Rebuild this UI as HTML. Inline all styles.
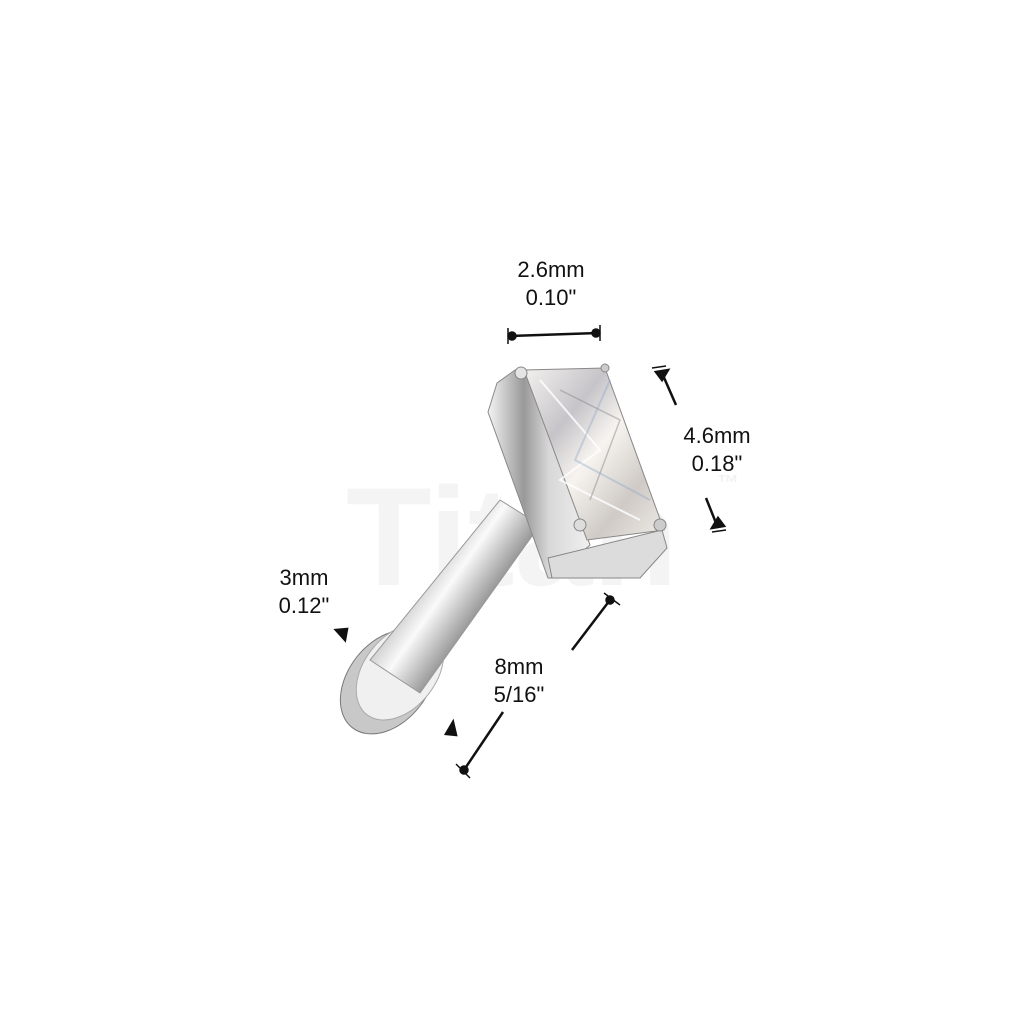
<!DOCTYPE html>
<html><head><meta charset="utf-8"><style>
body{margin:0;background:#fff;}
svg{display:block}
text{font-family:"Liberation Sans",sans-serif;fill:#111;font-size:22px;text-anchor:middle}
</style></head><body>
<svg width="1024" height="1024" viewBox="0 0 1024 1024">
<defs>
<linearGradient id="stem" x1="0" y1="0" x2="1" y2="0.8">
<stop offset="0" stop-color="#f2f2f2"/><stop offset="0.3" stop-color="#a5a5a5"/><stop offset="0.5" stop-color="#fafafa"/><stop offset="0.7" stop-color="#888"/><stop offset="1" stop-color="#e0e0e0"/></linearGradient>
<linearGradient id="side" x1="0" y1="0" x2="1" y2="0">
<stop offset="0" stop-color="#f4f4f4"/><stop offset="0.35" stop-color="#999"/><stop offset="0.6" stop-color="#d8d8d8"/><stop offset="1" stop-color="#f0f0f0"/></linearGradient>
<linearGradient id="gem" x1="0" y1="0" x2="1" y2="1">
<stop offset="0" stop-color="#f4f2ef"/><stop offset="0.3" stop-color="#c6c4c8"/><stop offset="0.5" stop-color="#f7f4f0"/><stop offset="0.75" stop-color="#cfcac6"/><stop offset="1" stop-color="#f0ece8"/></linearGradient>
</defs>
<text x="512" y="585" style="font-size:140px;font-weight:bold;fill:#f4f4f4">Titan</text>
<text x="728" y="490" style="font-size:22px;font-weight:bold;fill:#f2f2f2">™</text>
<!-- disk -->
<ellipse cx="388" cy="682" rx="40" ry="58" transform="rotate(38 388 682)" fill="#c8c8c8" stroke="#777"/>
<ellipse cx="400" cy="672" rx="36" ry="54" transform="rotate(38 400 672)" fill="#f0f0f0" stroke="#aaa"/>
<!-- stem -->
<polygon points="370,660 500,500 540,525 420,693" fill="url(#stem)" stroke="#999" stroke-width="1"/>
<!-- setting side -->
<polygon points="497,383 515,370 527,372 590,545 553,578 548,578 488,412" fill="url(#side)" stroke="#888"/>
<!-- bottom strip -->
<polygon points="548,558 662,530 667,548 640,578 552,578" fill="#dcdcdc" stroke="#888"/>
<!-- gem -->
<polygon points="524,370 605,368 664,530 587,540" fill="url(#gem)" stroke="#888"/>
<polyline points="540,380 600,450 560,480 640,520" fill="none" stroke="#fff" stroke-width="2" opacity="0.8"/>
<polyline points="560,390 620,420 590,500" fill="none" stroke="#777" stroke-width="1.5" opacity="0.4"/>
<polyline points="610,380 575,460 650,500" fill="none" stroke="#8fa7c8" stroke-width="2" opacity="0.4"/>
<circle cx="521" cy="373" r="6" fill="#e4e4e4" stroke="#888"/>
<circle cx="605" cy="368" r="4" fill="#ccc" stroke="#888"/>
<circle cx="660" cy="525" r="6" fill="#ccc" stroke="#888"/>
<circle cx="580" cy="525" r="6" fill="#ddd" stroke="#888"/>
<!-- dimension lines -->
<g stroke="#111" stroke-width="2.5" fill="#111">
<line x1="510" y1="336" x2="598" y2="333"/>
<circle cx="512" cy="336" r="3.5"/><circle cx="596" cy="333" r="3.5"/>
<line x1="508" y1="328" x2="508" y2="344" stroke-width="1.5"/><line x1="600" y1="325" x2="600" y2="341" stroke-width="1.5"/>
<line x1="662" y1="373" x2="676" y2="405"/>
<polygon points="656,372 668,370 662,380"/>
<line x1="652" y1="368" x2="666" y2="366" stroke-width="1.5"/>
<line x1="706" y1="498" x2="718" y2="528"/>
<polygon points="712,528 724,526 718,518"/>
<line x1="712" y1="532" x2="726" y2="530" stroke-width="1.5"/>
<line x1="572" y1="650" x2="610" y2="600"/><circle cx="610" cy="600" r="3.5"/>
<line x1="604" y1="593" x2="620" y2="605" stroke-width="1.5"/>
<line x1="503" y1="712" x2="464" y2="770"/><circle cx="464" cy="770" r="3.5"/>
<line x1="456" y1="764" x2="470" y2="778" stroke-width="1.5"/>
<polygon points="336,630 347,629 345,640"/>
<polygon points="453,722 446,734 456,735"/>
</g>
<text x="551" y="277">2.6mm</text>
<text x="551" y="305">0.10"</text>
<text x="717" y="443">4.6mm</text>
<text x="717" y="471">0.18"</text>
<text x="304" y="585">3mm</text>
<text x="304" y="613">0.12"</text>
<text x="519" y="674">8mm</text>
<text x="519" y="702">5/16"</text>
</svg>
</body></html>
